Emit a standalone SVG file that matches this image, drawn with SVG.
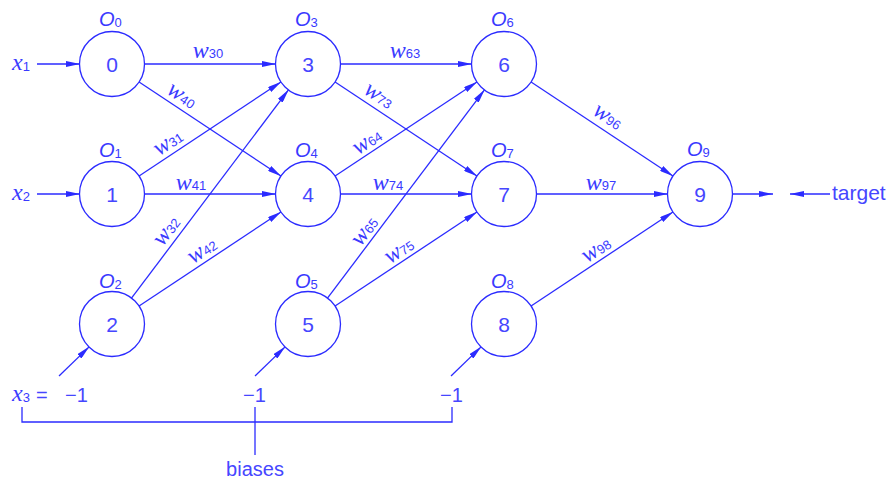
<svg xmlns="http://www.w3.org/2000/svg" width="896" height="480" viewBox="0 0 896 480">
<defs>
<style>
.ln{stroke:#2b2bff;stroke-width:1.3;fill:none}
.nd{stroke:#2b2bff;stroke-width:1.3;fill:#ffffff}
.num{font-family:"Liberation Sans",Arial,sans-serif;font-size:21px;fill:#4646ff;text-anchor:middle}
.o{font-family:"Liberation Sans",Arial,sans-serif;font-style:italic;font-size:20px;fill:#3a3aff}
.sub{font-family:"Liberation Sans",Arial,sans-serif;font-style:normal;font-size:13px}
.w{font-family:"Liberation Serif","Times New Roman",serif;font-style:italic;font-size:24px;fill:#3a3aff;text-anchor:middle}
.t{font-family:"Liberation Sans",Arial,sans-serif;font-size:20px;fill:#4646ff}
</style>
<marker id="ah" viewBox="0 0 14 6" refX="14" refY="3" markerWidth="14" markerHeight="6" markerUnits="userSpaceOnUse" orient="auto">
<path d="M0,0 L14,3 L0,6 z" fill="#2b2bff"/>
</marker>
</defs>
<rect width="896" height="480" fill="#ffffff"/>

<g id="connectors">
<line class="ln" x1="37" y1="64" x2="80" y2="64" marker-end="url(#ah)"/>
<line class="ln" x1="37" y1="194" x2="80" y2="194" marker-end="url(#ah)"/>
<line class="ln" x1="59" y1="376" x2="89.4" y2="346.6" marker-end="url(#ah)"/>
<line class="ln" x1="255" y1="376" x2="285.4" y2="346.6" marker-end="url(#ah)"/>
<line class="ln" x1="451" y1="376" x2="481.4" y2="346.6" marker-end="url(#ah)"/>
<line class="ln" x1="144" y1="64" x2="276" y2="64" marker-end="url(#ah)"/>
<line class="ln" x1="138.7" y1="81.7" x2="281.3" y2="176.3" marker-end="url(#ah)"/>
<line class="ln" x1="138.7" y1="176.3" x2="281.3" y2="81.7" marker-end="url(#ah)"/>
<line class="ln" x1="144" y1="194" x2="276" y2="194" marker-end="url(#ah)"/>
<line class="ln" x1="131.3" y1="298.4" x2="288.7" y2="89.6" marker-end="url(#ah)"/>
<line class="ln" x1="138.7" y1="306.3" x2="281.3" y2="211.7" marker-end="url(#ah)"/>
<line class="ln" x1="340" y1="64" x2="472" y2="64" marker-end="url(#ah)"/>
<line class="ln" x1="334.7" y1="81.7" x2="477.3" y2="176.3" marker-end="url(#ah)"/>
<line class="ln" x1="334.7" y1="176.3" x2="477.3" y2="81.7" marker-end="url(#ah)"/>
<line class="ln" x1="340" y1="194" x2="472" y2="194" marker-end="url(#ah)"/>
<line class="ln" x1="327.3" y1="298.4" x2="484.7" y2="89.6" marker-end="url(#ah)"/>
<line class="ln" x1="334.7" y1="306.3" x2="477.3" y2="211.7" marker-end="url(#ah)"/>
<line class="ln" x1="530.7" y1="81.7" x2="673.3" y2="176.3" marker-end="url(#ah)"/>
<line class="ln" x1="536" y1="194" x2="668" y2="194" marker-end="url(#ah)"/>
<line class="ln" x1="530.7" y1="306.3" x2="673.3" y2="211.7" marker-end="url(#ah)"/>
<line class="ln" x1="732" y1="194" x2="773" y2="194" marker-end="url(#ah)"/>
<line class="ln" x1="830" y1="194" x2="790" y2="194" marker-end="url(#ah)"/>
<polyline class="ln" points="22,407 22,422 452,422 452,407"/>
<line class="ln" x1="255" y1="407" x2="255" y2="455"/>
</g>

<g id="edge-labels">
<text class="w" transform="translate(208,53)" y="5">w<tspan class="sub">30</tspan></text>
<text class="w" transform="translate(181,97) rotate(33.6)" y="5">w<tspan class="sub">40</tspan></text>
<text class="w" transform="translate(169,144) rotate(-33.6)" y="5">w<tspan class="sub">31</tspan></text>
<text class="w" transform="translate(191,185)" y="5">w<tspan class="sub">41</tspan></text>
<text class="w" transform="translate(168,232) rotate(-53)" y="5">w<tspan class="sub">32</tspan></text>
<text class="w" transform="translate(203,252) rotate(-33.6)" y="5">w<tspan class="sub">42</tspan></text>
<text class="w" transform="translate(405,53)" y="5">w<tspan class="sub">63</tspan></text>
<text class="w" transform="translate(378,97) rotate(33.6)" y="5">w<tspan class="sub">73</tspan></text>
<text class="w" transform="translate(368,143) rotate(-33.6)" y="5">w<tspan class="sub">64</tspan></text>
<text class="w" transform="translate(388,185)" y="5">w<tspan class="sub">74</tspan></text>
<text class="w" transform="translate(366,232) rotate(-53)" y="5">w<tspan class="sub">65</tspan></text>
<text class="w" transform="translate(400,252) rotate(-33.6)" y="5">w<tspan class="sub">75</tspan></text>
<text class="w" transform="translate(607,118) rotate(33.6)" y="5">w<tspan class="sub">96</tspan></text>
<text class="w" transform="translate(601,185)" y="5">w<tspan class="sub">97</tspan></text>
<text class="w" transform="translate(597,251) rotate(-33.6)" y="5">w<tspan class="sub">98</tspan></text>
</g>

<g id="node0"><circle class="nd" cx="112" cy="64" r="32.5"/><text class="num" x="112" y="71.5">0</text><text class="o" x="99" y="26">O<tspan class="sub" dy="1">0</tspan></text></g>
<g id="node1"><circle class="nd" cx="112" cy="194" r="32.5"/><text class="num" x="112" y="201.5">1</text><text class="o" x="99" y="157">O<tspan class="sub" dy="1">1</tspan></text></g>
<g id="node2"><circle class="nd" cx="112" cy="324" r="32.5"/><text class="num" x="112" y="331.5">2</text><text class="o" x="99" y="288">O<tspan class="sub" dy="1">2</tspan></text></g>
<g id="node3"><circle class="nd" cx="308" cy="64" r="32.5"/><text class="num" x="308" y="71.5">3</text><text class="o" x="295" y="26">O<tspan class="sub" dy="1">3</tspan></text></g>
<g id="node4"><circle class="nd" cx="308" cy="194" r="32.5"/><text class="num" x="308" y="201.5">4</text><text class="o" x="295" y="157">O<tspan class="sub" dy="1">4</tspan></text></g>
<g id="node5"><circle class="nd" cx="308" cy="324" r="32.5"/><text class="num" x="308" y="331.5">5</text><text class="o" x="295" y="288">O<tspan class="sub" dy="1">5</tspan></text></g>
<g id="node6"><circle class="nd" cx="504" cy="64" r="32.5"/><text class="num" x="504" y="71.5">6</text><text class="o" x="491" y="26">O<tspan class="sub" dy="1">6</tspan></text></g>
<g id="node7"><circle class="nd" cx="504" cy="194" r="32.5"/><text class="num" x="504" y="201.5">7</text><text class="o" x="491" y="157">O<tspan class="sub" dy="1">7</tspan></text></g>
<g id="node8"><circle class="nd" cx="504" cy="324" r="32.5"/><text class="num" x="504" y="331.5">8</text><text class="o" x="491" y="288">O<tspan class="sub" dy="1">8</tspan></text></g>
<g id="node9"><circle class="nd" cx="700" cy="194" r="32.5"/><text class="num" x="700" y="201.5">9</text><text class="o" x="687" y="156">O<tspan class="sub" dy="1">9</tspan></text></g>

<g id="inputs">
<text class="w" x="21" y="70">x<tspan class="sub" dy="1">1</tspan></text>
<text class="w" x="21" y="200">x<tspan class="sub" dy="1">2</tspan></text>
<text class="w" x="21" y="401">x<tspan class="sub" dy="1">3</tspan></text>
<text class="t" x="36" y="402">=</text>
<text class="t" x="65" y="402">−1</text>
<text class="t" x="243" y="402">−1</text>
<text class="t" x="440" y="402">−1</text>
<text class="t" x="255" y="476" text-anchor="middle">biases</text>
<text class="t" x="832" y="200" style="font-size:21px">target</text>
</g>
</svg>
